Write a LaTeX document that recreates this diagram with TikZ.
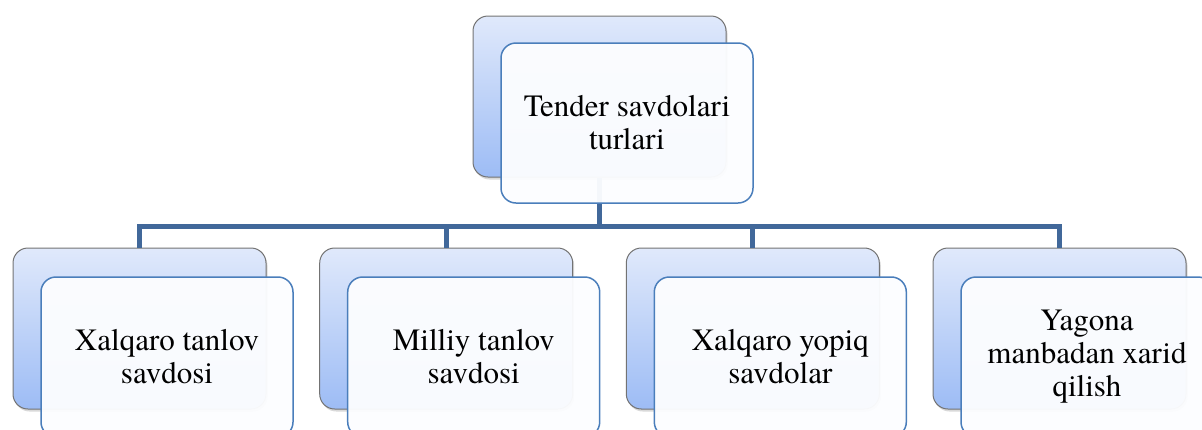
\documentclass[tikz,border=0pt]{standalone}
\usepackage{fontspec}
\setmainfont{TeX Gyre Termes}
\usetikzlibrary{shadows}
\definecolor{backlight}{HTML}{E0E9FB}
\definecolor{backdark}{HTML}{9DBCF5}
\definecolor{backline}{HTML}{737373}
\definecolor{frontline}{HTML}{4A7EBB}
\definecolor{frontfill}{HTML}{FCFDFF}
\definecolor{connblue}{HTML}{41689A}
\tikzset{
  backbox/.style={rectangle, rounded corners=15pt, draw=backline, line width=1pt,
    minimum width=253pt, minimum height=161pt, inner sep=0pt,
    top color=backlight, bottom color=backdark,
    drop shadow={opacity=0.3, shadow xshift=1.5pt, shadow yshift=-2.5pt}},
  frontbox/.style={rectangle, rounded corners=15pt, draw=frontline, line width=1.5pt,
    fill=frontfill, fill opacity=0.96,
    minimum width=252pt, minimum height=160pt, inner sep=0pt},
  boxtext/.style={align=center, inner sep=0pt, text=black,
    font=\fontsize{31}{33}\selectfont},
  conn/.style={draw=connblue, line width=5pt}
}
\begin{document}
\begin{tikzpicture}[x=1pt,y=-1pt]
\useasboundingbox (0,0) rectangle (1202,429);
\clip (0,0) rectangle (1202,429);
% back boxes
\node[backbox] (topback) at (599.5,96.5) {};
\node[backbox] (b1back) at (139.5,328.5) {};
\node[backbox] (b2back) at (446.2,328.5) {};
\node[backbox] (b3back) at (752.8,328.5) {};
\node[backbox] (b4back) at (1059.5,328.5) {};
% connectors
\coordinate (bus) at (599.5,226);
\draw[conn] (topback.south) -- (bus);
\draw[conn] (b1back.north) |- (bus) -| (b4back.north);
\draw[conn] (b2back.north) -- (b2back.north |- bus);
\draw[conn] (b3back.north) -- (b3back.north |- bus);
% front boxes
\node[frontbox] (topfront) at (627,123) {};
\node[frontbox] (b1front) at (167,357) {};
\node[frontbox] (b2front) at (473.7,357) {};
\node[frontbox] (b3front) at (780.3,357) {};
\node[frontbox] (b4front) at (1087,357) {};
% texts
\node[boxtext] (t0) at (topfront.center) {Tender savdolari\\turlari};
\node[boxtext] (t1) at (b1front.center) {Xalqaro tanlov\\savdosi};
\node[boxtext] (t2) at (b2front.center) {Milliy tanlov\\savdosi};
\node[boxtext] (t3) at (b3front.center) {Xalqaro yopiq\\savdolar};
\node[boxtext] (t4) at (b4front.center) {Yagona\\manbadan xarid\\qilish};
\end{tikzpicture}
\end{document}
